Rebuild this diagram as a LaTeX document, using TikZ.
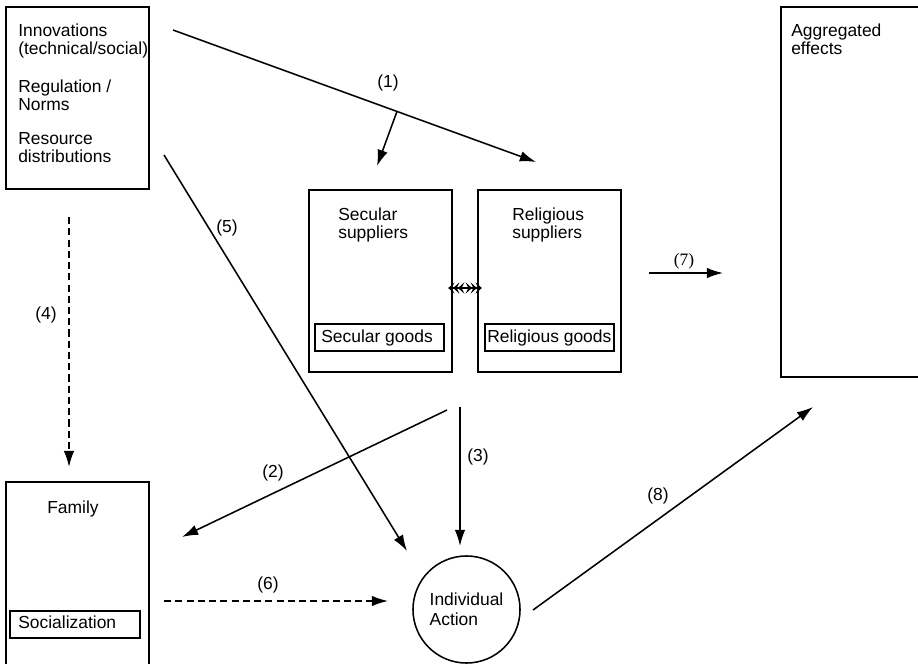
\documentclass[tikz,border=0pt]{standalone}
\usepackage{fontspec}
\setmainfont{Liberation Sans}
\newfontfamily\serifnum{Liberation Serif}
\usetikzlibrary{arrows.meta, positioning, fit}

\tikzset{chev/.tip={Stealth[length=4.5pt,width=8pt,inset=2pt,sep=-1pt] Stealth[length=4.5pt,width=8pt,inset=2pt,sep=-1pt] Stealth[length=4.5pt,width=8pt,inset=2pt]}}

\begin{document}
\begin{tikzpicture}[
  x=0.025cm, y=-0.025cm,
  box/.style={draw, line width=1.4pt, inner sep=0pt, fit={#1}},
  goods/.style={draw, line width=1.1pt, inner sep=0pt, fit={#1}},
  txt/.style={anchor=base west, align=left, inner sep=0pt, font=\fontsize{12.4}{12.8}\selectfont},
  num/.style={anchor=base, inner sep=0pt, font=\fontsize{12.4}{12.8}\selectfont},
  link/.style={-{Latex[length=11.5pt, width=7.5pt]}, line width=1.1pt},
  dlink/.style={link, dash pattern=on 5pt off 3pt},
  exchange/.style={arrows=chev-chev, line width=1.1pt, shorten <=-0.12cm, shorten >=-0.12cm}
]

  \clip (0,0) rectangle (918,663);

  % Context box at the top left (base = last line)
  \node[box={(6,7) (149,189)}] (env) {};
  \node[txt] (envinno) at (18,55) {Innovations\\(technical/social)};
  \node[txt] (envnorm) at (18,111) {Regulation /\\Norms};
  \node[txt] (envres)  at (18,162) {Resource\\distributions};

  % Suppliers and their goods
  \node[box={(309,190) (452,372)}] (sec) {};
  \node[txt] (sectxt) at (338,238) {Secular\\suppliers};
  \node[goods={(315,324) (444,351)}] (secg) {};
  \node[txt] (secgtxt) at (321,342) {Secular goods};

  \node[box={(478,190) (621,372)}] (rel) {};
  \node[txt] (reltxt) at (512,238) {Religious\\suppliers};
  \node[goods={(485,324) (614,351)}] (relg) {};
  \node[txt] (relgtxt) at (487,342) {Religious goods};

  % Aggregated effects (runs off the right edge)
  \node[box={(781,7) (940,377)}] (agg) {};
  \node[txt] (aggtxt) at (791,55) {Aggregated\\effects};

  % Family (runs off the bottom edge)
  \node[box={(6,482) (149,690)}] (fam) {};
  \node[txt] (famtxt) at (47,513) {Family};
  \node[goods={(10,611) (140,638)}] (soc) {};
  \node[txt] (soctxt) at (18,628) {Socialization};

  % Individual action
  \node[circle, draw, line width=1.1pt, minimum size=2.675cm, inner sep=0pt, align=left,
        font=\fontsize{12.4}{14.2}\selectfont] (act) at (466.5,609.5) {Individual\\Action};

  % Free ends of the connectors
  \coordinate (p1s) at (173,30);  \coordinate (p1e) at (536,162);
  \path (p1s) -- (p1e) coordinate[pos=0.617] (p1b);
  \coordinate (p1t) at (377,166);
  \coordinate (p2s) at (447,410); \coordinate (p2e) at (182,537);
  \coordinate (p3s) at (460,407); \coordinate (p3e) at (460,546);
  \coordinate (p4s) at (69,217);  \coordinate (p4e) at (69,467);
  \coordinate (p5s) at (164,155); \coordinate (p5e) at (407,551);
  \coordinate (p6s) at (164,601); \coordinate (p6e) at (388,601);
  \coordinate (p7s) at (649,273); \coordinate (p7e) at (723,273);
  \coordinate (p8s) at (533,610); \coordinate (p8e) at (813,407);

  % Connectors
  \draw[link] (p1s) -- (p1e);
  \draw[link] (p1b) -- (p1t);
  \draw[link] (p2s) -- (p2e);
  \draw[link] (p3s) -- (p3e);
  \draw[dlink] (p4s) -- (p4e);
  \draw[link] (p5s) -- (p5e);
  \draw[dlink] (p6s) -- (p6e);
  \draw[link] (p7s) -- (p7e);
  \draw[link] (p8s) -- (p8e);
  \draw[exchange] ([yshift=-0.175cm]sec.east) -- ([yshift=-0.175cm]rel.west);

  % Connector numbers
  \node[num] (n1) at (388,88) {(1)};
  \node[num] (n2) at (273,477) {(2)};
  \node[num] (n3) at (478,461) {(3)};
  \node[num] (n4) at (46,319) {(4)};
  \node[num] (n5) at (227,232) {(5)};
  \node[num] (n6) at (268,589) {(6)};
  \node[num, font=\serifnum\fontsize{12.4}{12.8}\selectfont] (n7) at (684,265) {(7)};
  \node[num] (n8) at (658,500) {(8)};

\end{tikzpicture}
\end{document}
